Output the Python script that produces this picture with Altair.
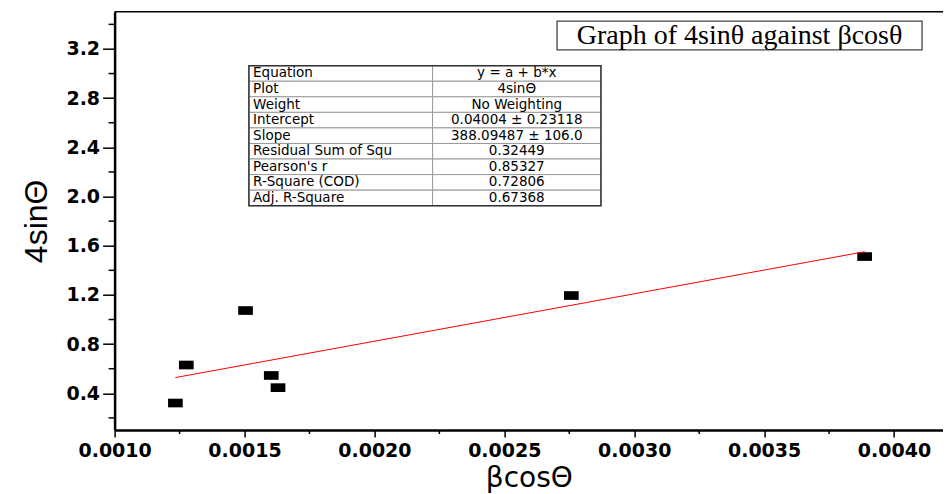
import altair as alt
import pandas as pd

# ---- data ----
x_vals = [0.001234, 0.001276, 0.001504, 0.001603, 0.001629, 0.002758, 0.003887]
y_vals = [0.321, 0.630, 1.073, 0.545, 0.446, 1.195, 1.512]

table_labels = ["Equation", "Plot", "Weight", "Intercept", "Slope",
                "Residual Sum of Squ", "Pearson's r", "R-Square (COD)", "Adj. R-Square"]
table_values = ["y = a + b*x", "4sinΘ", "No Weighting", "0.04004 ± 0.23118",
                "388.09487 ± 106.0", "0.32449", "0.85327", "0.72806", "0.67368"]

x_major = [0.0010, 0.0015, 0.0020, 0.0025, 0.0030, 0.0035, 0.0040]
x_minor = [0.00125, 0.00175, 0.00225, 0.00275, 0.00325, 0.00375]
y_major = [0.4, 0.8, 1.2, 1.6, 2.0, 2.4, 2.8, 3.2]
y_minor = [0.2, 0.6, 1.0, 1.4, 1.8, 2.2, 2.6, 3.0, 3.4]

chart_title = "Graph of 4sinθ against βcosθ"
x_title = "βcosΘ"
y_title = "4sinΘ"

# ---- scale domains ----
W, H = 828.4, 418.3
X_MIN = 0.0010
X_MAX = X_MIN + W / 259800
Y_MIN, Y_MAX = 0.1016, 3.503

# table geometry (data units)
TX0, TX1, TX2 = 0.001517, 0.002224, 0.002872
TY_TOP, ROW_H = 3.064, 0.1265
TXT_L = 0.001533
TXT_R = (TX1 + TX2) / 2

# title box geometry (data units)
BX0, BX1, BY0, BY1 = 0.002703, 0.004108, 3.192, 3.427

pts = pd.DataFrame({"x": x_vals, "y": y_vals})

cells = []
for i, (lab, val) in enumerate(zip(table_labels, table_values)):
    top = TY_TOP - i * ROW_H
    bot = TY_TOP - (i + 1) * ROW_H
    cells.append({"x": TX0, "x2": TX1, "y": top, "y2": bot})
    cells.append({"x": TX1, "x2": TX2, "y": top, "y2": bot})
cells = pd.DataFrame(cells)

texts = pd.DataFrame({
    "lab": table_labels,
    "val": table_values,
    "y": [TY_TOP - (i + 0.5) * ROW_H for i in range(len(table_labels))],
    "xl": [TXT_L] * len(table_labels),
    "xr": [TXT_R] * len(table_labels),
})

outer = pd.DataFrame({"x": [TX0], "x2": [TX2], "y": [TY_TOP],
                      "y2": [TY_TOP - len(table_labels) * ROW_H]})
tbox = pd.DataFrame({"x": [BX0], "x2": [BX1], "y": [BY1], "y2": [BY0]})
ttext = pd.DataFrame({"x": [(BX0 + BX1) / 2], "y": [(BY0 + BY1) / 2], "t": [chart_title]})
topline = pd.DataFrame({"x": [X_MIN], "x2": [X_MAX], "y": [Y_MAX]})
xmin_df = pd.DataFrame({"x": x_minor})
ymin_df = pd.DataFrame({"y": y_minor})

xs = alt.Scale(domain=[X_MIN, X_MAX], nice=False, zero=False)
ys = alt.Scale(domain=[Y_MIN, Y_MAX], nice=False, zero=False)

xaxis = alt.Axis(
    values=x_major, format=".4f",
    tickSize=7, tickWidth=1.5, tickColor="black",
    domainColor="black", domainWidth=2.3,
    labelFont="DejaVu Sans", labelFontWeight="bold", labelFontSize=19,
    labelColor="black", labelPadding=4, labelFlush=False, labelOverlap=False,
    titleFont="DejaVu Sans", titleFontWeight="normal", titleFontSize=28,
    titleColor="black", titlePadding=4, grid=False,
)
yaxis = alt.Axis(
    values=y_major, format=".1f",
    tickSize=12, tickWidth=1.5, tickColor="black",
    domainColor="black", domainWidth=2.5,
    labelFont="DejaVu Sans", labelFontWeight="bold", labelFontSize=19,
    labelColor="black", labelPadding=3, labelFlush=False, labelOverlap=False,
    titleFont="Liberation Sans", titleFontWeight="normal", titleFontSize=32,
    titleColor="black", titlePadding=12, grid=False,
)


def X(field="x"):
    return alt.X(f"{field}:Q", scale=xs, title=x_title)


def Y(field="y"):
    return alt.Y(f"{field}:Q", scale=ys, title=y_title)


points = alt.Chart(pts).mark_point(
    shape="M-1,-0.59L1,-0.59L1,0.59L-1,0.59Z", size=216, filled=True,
    color="black", opacity=1, strokeWidth=0,
).encode(
    x=alt.X("x:Q", scale=xs, axis=xaxis, title=x_title),
    y=alt.Y("y:Q", scale=ys, axis=yaxis, title=y_title),
)

fit = alt.Chart(pts).transform_regression("x", "y").mark_line(
    color="#ff0000", strokeWidth=1
).encode(x=X(), y=Y())

top_rule = alt.Chart(topline).mark_rule(color="black", strokeWidth=1.6).encode(
    x=X(), x2="x2:Q", y=Y()
)

x_minor_ticks = alt.Chart(xmin_df).mark_rule(color="black", strokeWidth=1.5).encode(
    x=X(), y=alt.value(H), y2=alt.value(H + 4)
)
y_minor_ticks = alt.Chart(ymin_df).mark_rule(color="black", strokeWidth=1.5).encode(
    y=Y(), x=alt.value(0), x2=alt.value(-6)
)

cell_rects = alt.Chart(cells).mark_rect(
    fill="white", stroke="#9a9a9a", strokeWidth=1
).encode(x=X(), x2="x2:Q", y=Y(), y2="y2:Q")

outer_rect = alt.Chart(outer).mark_rect(
    fill=None, stroke="#333333", strokeWidth=1.5, fillOpacity=0
).encode(x=X(), x2="x2:Q", y=Y(), y2="y2:Q")

lab_text = alt.Chart(texts).mark_text(
    align="left", baseline="middle", font="DejaVu Sans", fontSize=13.5, color="black"
).encode(x=X("xl"), y=Y(), text="lab:N")

val_text = alt.Chart(texts).mark_text(
    align="center", baseline="middle", font="DejaVu Sans", fontSize=13.5, color="black"
).encode(x=X("xr"), y=Y(), text="val:N")

box_rect = alt.Chart(tbox).mark_rect(
    fill="white", stroke="#444444", strokeWidth=1.3
).encode(x=X(), x2="x2:Q", y=Y(), y2="y2:Q")

box_text = alt.Chart(ttext).mark_text(
    align="center", baseline="middle", font="Liberation Serif", fontSize=28,
    color="black", dy=1
).encode(x=X(), y=Y(), text="t:N")

chart = alt.layer(
    points, fit, top_rule, x_minor_ticks, y_minor_ticks, cell_rects, outer_rect,
    lab_text, val_text, box_rect, box_text
).properties(
    width=W, height=H,
    autosize=alt.AutoSizeParams(type="none"),
    padding={"left": 106.6, "top": 3.7, "right": 0, "bottom": 64},
    background="white",
).configure_view(stroke=None)

chart.save("out.html", embed_options={"renderer": "svg", "actions": False})
